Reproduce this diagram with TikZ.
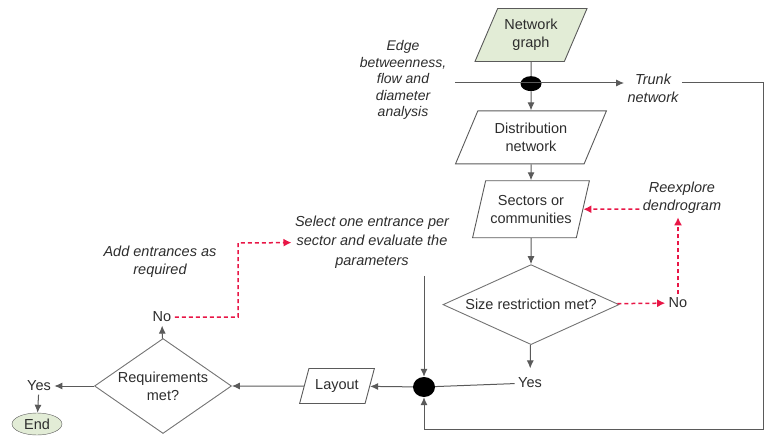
\documentclass[tikz,border=0pt]{standalone}
\usepackage{fontspec}
\setmainfont{Liberation Sans}
\usepackage{xcolor}
\definecolor{linea}{RGB}{90,90,90}
\definecolor{texto}{RGB}{45,45,45}
\definecolor{verde}{RGB}{226,236,214}
\definecolor{rojo}{RGB}{232,22,70}
\usepackage{tikz}
\usetikzlibrary{positioning,arrows.meta,shapes.geometric,calc}

\begin{document}
\begin{tikzpicture}[
    x=1pt, y=-1pt,
    font=\fontsize{14.5}{18}\selectfont,
    text=texto,
    data/.style={trapezium, trapezium left angle=#1, trapezium right angle=180-#1,
      trapezium stretches=true,
      draw=linea, line width=0.9pt, align=center, inner xsep=0pt, inner ysep=2pt},
    data/.default=65,
    decision/.style={diamond, draw=linea!85, line width=0.9pt, align=center, inner sep=0pt},
    junction/.style={ellipse, fill=black, inner sep=0pt},
    note/.style={align=center, font=\fontsize{14.5}{18}\selectfont\itshape},
    link/.style={draw=linea, line width=1pt},
    flow/.style={link, -{Latex[length=8pt,width=7pt]}},
    retry/.style={draw=rojo, line width=1.5pt, dash pattern=on 4pt off 3pt,
      -{Latex[length=8pt,width=8pt]}}
  ]
  \useasboundingbox (0,0) rectangle (765,446);

  % main column
  \node[data=63, fill=verde, minimum width=113pt, minimum height=53pt] (graph) at (531,35) {Network\\graph};
  \node[junction, minimum width=21pt, minimum height=15pt, below=14pt of graph] (jtop) {};
  \node[data, minimum width=151pt, minimum height=53pt, below=19pt of jtop] (dist) {Distribution\\network};
  \node[data=70, minimum width=117pt, minimum height=57pt, below=16pt of dist] (sect) {Sectors or\\communities};
  \node[decision, aspect=2.2, minimum width=176pt, minimum height=80pt, below=26pt of sect] (size) {Size restriction met?};
  \node (yes1) at (530,383) {Yes};
  \node[junction, minimum width=22pt, minimum height=20pt] (jbot) at (424,387) {};
  \node[data=67, minimum width=75pt, minimum height=35pt] (layout) at (337,386) {Layout};
  \node[decision, aspect=1.45, minimum width=137pt, minimum height=95pt] (req) at (163,386) {Requirements\\met?};
  \node (no2) at (162,317) {No};
  \node (yes2) at (39,386) {Yes};
  \node[ellipse, draw=linea, fill=verde, minimum width=50pt, minimum height=22pt, inner sep=1pt] (end) at (37,424) {End};

  % side notes
  \node (no1) at (678,303) {No};
  \node[note] (reexp) at (682,198) {Reexplore\\dendrogram};
  \node[note] (trunk) at (653,88) {Trunk\\network};
  \node[note, font=\fontsize{14}{16.5}\selectfont\itshape] (edge) at (403,80) {Edge\\betweenness,\\flow and\\diameter\\analysis};
  \node[note, font=\fontsize{14.5}{19.5}\selectfont\itshape] (select) at (372,242) {Select one entrance per\\sector and evaluate the\\parameters};
  \node[note] (adden) at (160,262) {Add entrances as\\required};

  \coordinate (ein) at (455,83);
  \coordinate (rc) at (763,429);
  \coordinate (bend) at (238,243);

  \draw[link] (graph) -- (jtop);
  \draw[flow] (ein) -- (ein -| trunk.west);
  \draw[flow] (jtop) -- (dist);
  \draw[flow] (dist) -- (sect);
  \draw[flow] (sect) -- (size);
  \draw[flow, shorten >=6pt] (size) -- (yes1);
  \draw[link] (yes1) -- (jbot);
  \draw[flow, shorten <=4pt] (select.south -| jbot) -- (jbot);
  \draw[flow] (trunk.east |- ein) -| (rc) -| (jbot);
  \draw[flow] (jbot) -- (layout);
  \draw[flow] (layout) -- (req);
  \draw[flow] (req) -- (yes2);
  \draw[flow] (yes2) -- (end);
  \draw[flow] (req) -- (no2);

  % loops back
  \draw[retry] (size) -- (no1);
  \draw[retry] (no1) -- (no1 |- reexp.south);
  \draw[retry] (reexp.west |- sect) -- (sect);
  \draw[retry] (no2) -| (bend) -- (select);
\end{tikzpicture}
\end{document}
